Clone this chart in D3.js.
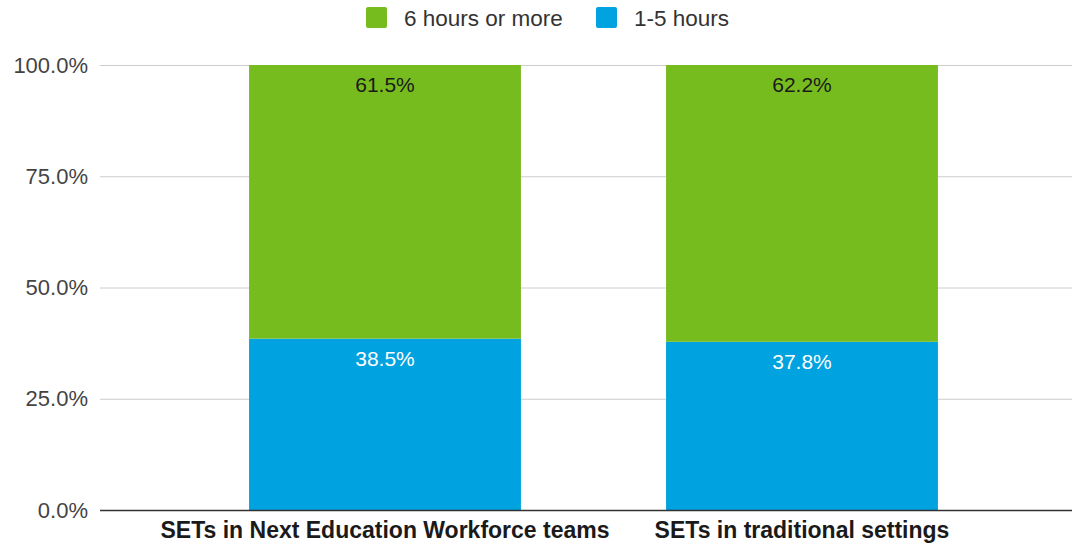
<!DOCTYPE html>
<html>
<head>
<meta charset="utf-8">
<script src="https://cdn.jsdelivr.net/npm/d3@7/dist/d3.min.js"></script>
<style>
  html, body { margin: 0; padding: 0; background: #fff; }
  svg { display: block; font-family: "Liberation Sans", Arial, sans-serif; }
</style>
</head>
<body>
<svg id="chart" width="1074" height="544"></svg>
<script>
// Share of SETs by weekly hours, stacked to 100%
const categories = ["SETs in Next Education Workforce teams", "SETs in traditional settings"];
const seriesNames = ["1-5 hours", "6 hours or more"];
const shortHours = [38.5, 37.8];
const longHours = [61.5, 62.2];
const yTicks = [0, 25, 50, 75, 100];
const colors = { "1-5 hours": "#00a2df", "6 hours or more": "#77bc1f" };
const legendOrder = ["6 hours or more", "1-5 hours"];

const svg = d3.select("#chart");
const gridLeft = 100, gridRight = 1072;
const yTop = 65, yBottom = 510;

const x = d3.scaleBand().domain(categories).range([176.5, 1010.5]).paddingInner(0.348).paddingOuter(0.174);
const y = d3.scaleLinear().domain([0, 100]).range([yBottom, yTop]);

const rows = categories.map((c, i) => ({ cat: c, "1-5 hours": shortHours[i], "6 hours or more": longHours[i] }));
const stacked = d3.stack().keys(seriesNames)(rows);

// gridlines
svg.append("g").selectAll("line").data(yTicks.filter(t => t > 0)).join("line")
  .attr("x1", gridLeft).attr("x2", gridRight)
  .attr("y1", d => y(d) + 0.5).attr("y2", d => y(d) + 0.5)
  .attr("stroke", "#cccccc").attr("stroke-width", 1);

// y axis labels
const yAxis = d3.axisLeft(y).tickValues(yTicks).tickSize(0).tickPadding(0)
  .tickFormat(d => d.toFixed(1) + "%");
const ya = svg.append("g").attr("transform", `translate(${gridLeft - 12},0)`).call(yAxis);
ya.select(".domain").remove();
ya.selectAll("text").attr("font-size", 22).attr("fill", "#444").attr("font-family", "Liberation Sans, Arial, sans-serif");

// bars
const layers = svg.append("g").selectAll("g").data(stacked).join("g")
  .attr("fill", d => colors[d.key]);
layers.selectAll("rect").data(d => d.map(v => ({ v, key: d.key }))).join("rect")
  .attr("x", d => x(d.v.data.cat))
  .attr("width", x.bandwidth())
  .attr("y", d => y(d.v[1]))
  .attr("height", d => y(d.v[0]) - y(d.v[1]));

// value labels
layers.selectAll("text").data(d => d.map(v => ({ v, key: d.key }))).join("text")
  .attr("x", d => x(d.v.data.cat) + x.bandwidth() / 2)
  .attr("y", d => y(d.v[1]) + 27)
  .attr("text-anchor", "middle")
  .attr("font-size", 21)
  .attr("fill", d => d.key === "1-5 hours" ? "#ffffff" : "#1a1a1a")
  .text(d => (d.v[1] - d.v[0]).toFixed(1) + "%");

// baseline
svg.append("line").attr("x1", gridLeft).attr("x2", gridRight)
  .attr("y1", y(0) + 0.5).attr("y2", y(0) + 0.5)
  .attr("stroke", "#333").attr("stroke-width", 1.3);

// category labels
const xAxis = d3.axisBottom(x).tickSize(0).tickPadding(0);
const xa = svg.append("g").attr("transform", `translate(0,${yBottom + 12})`).call(xAxis);
xa.select(".domain").remove();
xa.selectAll("text").attr("dy", "0.71em").attr("font-size", 23).attr("font-weight", "bold")
  .attr("fill", "#1a1a1a").attr("font-family", "Liberation Sans, Arial, sans-serif");

// legend
const legendPos = [366, 596];
const lg = svg.append("g").selectAll("g").data(legendOrder).join("g")
  .attr("transform", (d, i) => `translate(${legendPos[i]},7)`);
lg.append("rect").attr("width", 21).attr("height", 21).attr("rx", 2).attr("fill", d => colors[d]);
lg.append("text").attr("x", 38).attr("y", 19).attr("font-size", 22.5).attr("fill", "#333").text(d => d);
</script>
</body>
</html>
